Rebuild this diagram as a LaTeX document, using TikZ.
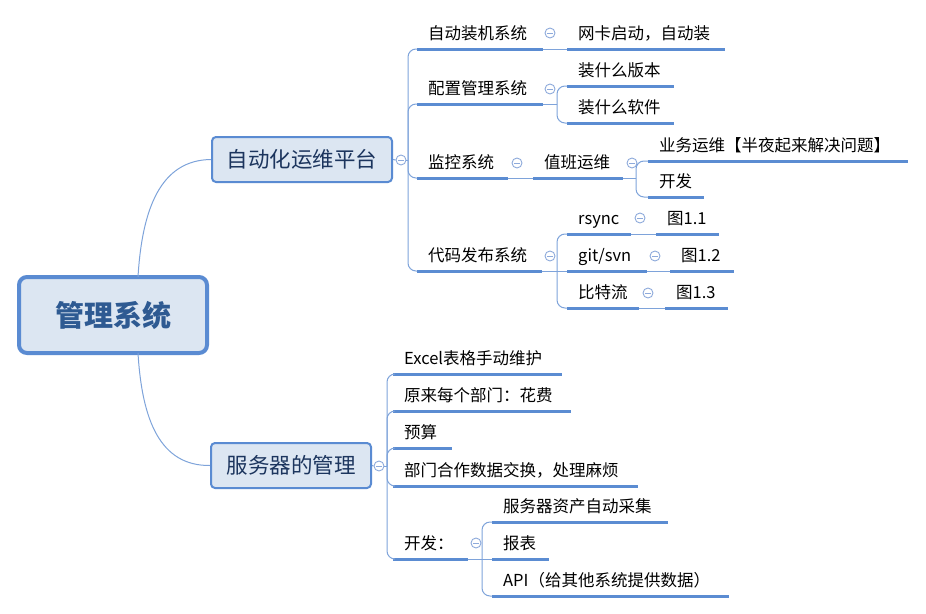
\documentclass[tikz,border=0pt]{standalone}
\usepackage{fontspec}
\newfontfamily\cjk{Noto Sans CJK SC}
\definecolor{boxfill}{HTML}{DCE6F2}
\definecolor{boxline}{HTML}{5A8BD2}
\definecolor{ulcol}{HTML}{5B8CD2}
\definecolor{conncol}{HTML}{7EA3DA}
\definecolor{markcol}{HTML}{8EAADB}
\definecolor{roottext}{HTML}{2E5A92}
\definecolor{l1text}{HTML}{1C355E}
\tikzset{
  topic/.style={anchor=base west, inner sep=0pt, text=black,
    font=\cjk\fontsize{16.5}{20}\selectfont},
  uline/.style={draw=ulcol, line width=3pt},
  conn/.style={draw=conncol, line width=1pt},
  rconn/.style={conn, rounded corners=8pt},
  marker/.style={circle, draw=markcol, line width=0.9pt, fill=white,
    minimum size=10pt, inner sep=0pt,
    path picture={\draw[markcol, line width=0.9pt]
      ([xshift=-2.6pt]path picture bounding box.center) --
      ([xshift=2.6pt]path picture bounding box.center);}},
  l1box/.style={draw=boxline, line width=2pt, fill=boxfill, rounded corners=4pt,
    inner sep=0pt, minimum height=45pt, text=l1text,
    text height=16.3pt, text depth=0pt,
    font=\cjk\fontsize{21.5}{24}\selectfont},
  rootbox/.style={draw=boxline, line width=4pt, fill=boxfill, rounded corners=8pt,
    inner sep=0pt, minimum width=188pt, minimum height=76pt, text=roottext,
    text height=22pt, text depth=0pt,
    font=\cjk\bfseries\fontsize{29}{32}\selectfont}
}
\newcommand\mmtopic[5]{%
  \coordinate (#1l) at (#2,#3);
  \coordinate (#1r) at ({#2+#4},#3);
  \node[topic] (#1) at ({#2+11},{#3-9.2}) {#5};
  \draw[uline] (#1l) -- (#1r);
}
\begin{document}
\begin{tikzpicture}[x=1pt,y=-1pt]
\useasboundingbox (0,0) rectangle (926,613);

% main boxes
\node[rootbox] (root) at (113,315) {管理系统};
\node[l1box, minimum width=180pt] (p1) at (302,159.5) {自动化运维平台};
\node[l1box, minimum width=160pt] (p2) at (291,465.5) {服务器的管理};

% root connectors
\coordinate (rt) at (138,277);
\coordinate (rb) at (138,353);
\draw[conn] (rt) .. controls (142,210) and (160,160) .. (p1.west);
\draw[conn] (rb) .. controls (142,420) and (160,466) .. (p2.west);

% topics: top branch
\mmtopic{a1}{417}{49}{126}{自动装机系统}
\mmtopic{a2}{417}{104}{126}{配置管理系统}
\mmtopic{a3}{417}{178}{91}{监控系统}
\mmtopic{a4}{417}{271}{125}{代码发布系统}
\mmtopic{b1}{567}{49}{158}{网卡启动，自动装}
\mmtopic{b2}{567}{86}{107}{装什么版本}
\mmtopic{b3}{567}{123}{107}{装什么软件}
\mmtopic{b4}{533}{178}{90}{值班运维}
\mmtopic{c1}{648}{161}{260}{业务运维【半夜起来解决问题】}
\mmtopic{c2}{648}{197}{56}{开发}
\mmtopic{b5}{567}{234}{64}{rsync}
\mmtopic{b6}{567}{271}{80}{git/svn}
\mmtopic{b7}{567}{308}{72}{比特流}
\mmtopic{d1}{656}{234}{63}{图1.1}
\mmtopic{d2}{670}{271}{64}{图1.2}
\mmtopic{d3}{665}{308}{63}{图1.3}

% topics: bottom branch
\mmtopic{e1}{393}{374}{169}{Excel表格手动维护}
\mmtopic{e2}{393}{411}{178}{原来每个部门：花费}
\mmtopic{e3}{393}{448}{59}{预算}
\mmtopic{e4}{393}{486}{245}{部门合作数据交换，处理麻烦}
\mmtopic{e5}{393}{559}{75}{开发：}
\mmtopic{f1}{492}{522}{176}{服务器资产自动采集}
\mmtopic{f2}{492}{559}{57}{报表}
\mmtopic{f3}{492}{596}{237}{API（给其他系统提供数据）}

% markers
\node[marker] (m1) at (401,160) {};
\node[marker] (m2) at (379,466) {};
\node[marker] (ma1) at (550,33) {};
\node[marker] (ma2) at (550,89) {};
\node[marker] (ma3) at (517,163) {};
\node[marker] (mb4) at (632,163) {};
\node[marker] (ma4) at (550,256) {};
\node[marker] (mb5) at (640,218) {};
\node[marker] (mb6) at (655,256) {};
\node[marker] (mb7) at (648,293) {};
\node[marker] (me5) at (476,543) {};

% level 1 -> level 2 (top)
\coordinate (s1) at (408,160);
\draw[conn] (p1.east) -- (m1.west);
\draw[conn] (m1.east) -- (s1);
\draw[rconn] (s1) |- (a1l);
\draw[rconn] (s1) |- (a2l);
\draw[rconn] (s1) |- (a3l);
\draw[rconn] (s1) |- (a4l);

% level 2 -> level 3 (top)
\draw[conn] (a1r) -- (b1l);
\coordinate (j2) at (557,104);
\draw[conn] (a2r) -- (j2);
\draw[rconn] (j2) |- (b2l);
\draw[rconn] (j2) |- (b3l);
\draw[conn] (a3r) -- (b4l);
\coordinate (j4) at (636,178);
\draw[conn] (b4r) -- (j4);
\draw[rconn] (j4) |- (c1l);
\draw[rconn] (j4) |- (c2l);
\coordinate (j5) at (557,271);
\draw[conn] (a4r) -- (b6l);
\draw[rconn] (j5) |- (b5l);
\draw[rconn] (j5) |- (b7l);
\draw[conn] (b5r) -- (d1l);
\draw[conn] (b6r) -- (d2l);
\draw[conn] (b7r) -- (d3l);

% level 1 -> level 2 (bottom)
\coordinate (s2) at (387,466);
\draw[conn] (p2.east) -- (m2.west);
\draw[conn] (m2.east) -- (s2);
\draw[rconn] (s2) |- (e1l);
\draw[rconn] (s2) |- (e2l);
\draw[rconn] (s2) |- (e3l);
\draw[rconn] (s2) |- (e4l);
\draw[rconn] (s2) |- (e5l);
\coordinate (j6) at (482,559);
\draw[conn] (e5r) -- (f2l);
\draw[rconn] (j6) |- (f1l);
\draw[rconn] (j6) |- (f3l);
\end{tikzpicture}
\end{document}
